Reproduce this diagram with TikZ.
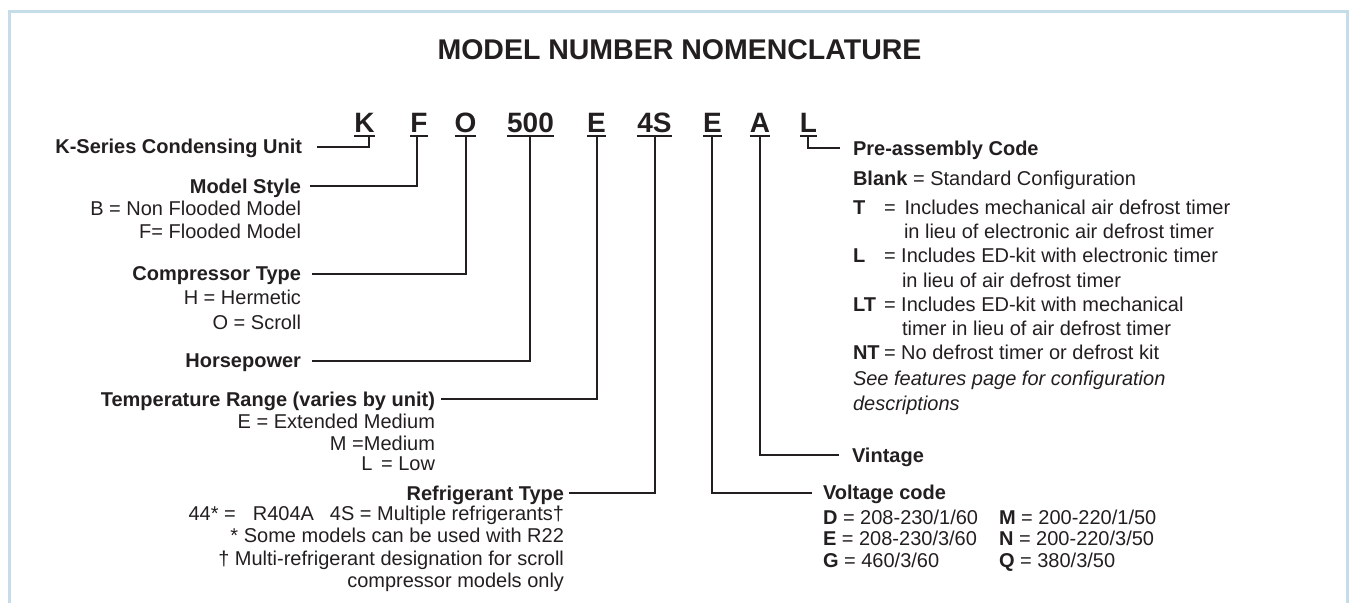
\documentclass[tikz,border=0pt]{standalone}
\usepackage{fontspec}
\setmainfont{Liberation Sans}
\usetikzlibrary{calc}
\definecolor{ink}{HTML}{231F20}
\definecolor{bordercol}{HTML}{C5DCE9}
\newcommand{\keycol}[1]{\makebox[31pt][l]{\textbf{#1}}}
\begin{document}
\begin{tikzpicture}[x=1pt,y=-1pt,
  txt/.style={inner sep=0pt, outer sep=0pt, text=ink, font=\fontsize{20}{24}\selectfont},
  lbl/.style={txt, anchor=base east},
  rlbl/.style={txt, anchor=base west},
  codebox/.style={inner sep=0pt, outer sep=0pt, text=ink, anchor=base, font=\fontsize{28}{34}\selectfont\bfseries},
  conn/.style={draw=ink, line width=2pt},
  uline/.style={draw=ink, line width=2.2pt},
]
\useasboundingbox (0,0) rectangle (1349,603);
\draw[bordercol, line width=3.5pt] (9.5,603) -- (9.5,11.5) -- (1347.5,11.5) -- (1347.5,603);

% title
\node[inner sep=0pt, text=ink, anchor=base, font=\fontsize{28.5}{34}\selectfont\bfseries] (title) at (679.5,59) {MODEL NUMBER NOMENCLATURE};

% code letters
\node[codebox] (cK) at (364.5,132) {K};
\node[codebox] (cF) at (419,132) {F};
\node[codebox] (cO) at (465.5,132) {O};
\node[codebox] (c500) at (530.5,132) {500};
\node[codebox] (cE) at (596.5,132) {E};
\node[codebox] (c4S) at (654.5,132) {4S};
\node[codebox] (cE2) at (712.5,132) {E};
\node[codebox] (cA) at (760,132) {A};
\node[codebox] (cL) at (808.5,132) {L};
\foreach \n in {cK,cF,cO,c500,cE,c4S,cE2,cA,cL}
  \draw[uline] ($(\n.base west)+(0,4)$) -- ($(\n.base east)+(0,4)$);

% left labels
\node[lbl] (ks) at (302,153) {\textbf{K-Series Condensing Unit}};
\node[lbl] (ms) at (301,193) {\textbf{Model Style}};
\node[lbl] (ms1) at (301,215) {B = Non Flooded Model};
\node[lbl] (ms2) at (301,238) {F= Flooded Model};
\node[lbl] (ct) at (301,280) {\textbf{Compressor Type}};
\node[lbl] (ct1) at (301,304) {H = Hermetic};
\node[lbl] (ct2) at (301,329) {O = Scroll};
\node[lbl] (hp) at (301,367) {\textbf{Horsepower}};
\node[lbl] (tr) at (435,406) {\textbf{Temperature Range (varies by unit)}};
\node[lbl] (tr1) at (435,428) {E = Extended Medium};
\node[lbl] (tr2) at (435,450) {M =Medium};
\node[lbl] (tr3) at (435,470) {L\hspace{3pt} = Low};
\node[lbl] (rt) at (564,500) {\textbf{Refrigerant Type}};
\node[lbl] (rt1) at (564,520) {44* =\hspace{17pt}R404A\hspace{16pt}4S = Multiple refrigerants†};
\node[lbl] (rt2) at (564,542) {* Some models can be used with R22};
\node[lbl] (rt3) at (564,565) {† Multi-refrigerant designation for scroll};
\node[lbl] (rt4) at (564,587) {compressor models only};

% right labels
\node[rlbl] (pre) at (853,155) {\textbf{Pre-assembly Code}};
\node[rlbl] (pre1) at (853,185) {\textbf{Blank} = Standard Configuration};
\node[rlbl] (pre2) at (853,214) {\keycol{T}=\ \,Includes mechanical air defrost timer};
\node[rlbl] (pre3) at (904,238) {in lieu of electronic air defrost timer};
\node[rlbl] (pre4) at (853,262) {\keycol{L}= Includes ED-kit with electronic timer};
\node[rlbl] (pre5) at (902,287) {in lieu of air defrost timer};
\node[rlbl] (pre6) at (853,311) {\keycol{LT}= Includes ED-kit with mechanical};
\node[rlbl] (pre7) at (902,335) {timer in lieu of air defrost timer};
\node[rlbl] (pre8) at (853,359) {\keycol{NT}= No defrost timer or defrost kit};
\node[rlbl] (pre9) at (853,385) {\itshape See features page for configuration};
\node[rlbl] (pre10) at (853,410) {\itshape descriptions};
\node[rlbl] (vin) at (852,462) {\textbf{Vintage}};
\node[rlbl] (vc) at (823,499) {\textbf{Voltage code}};
\node[rlbl] (vD) at (823,524) {\textbf{D} = 208-230/1/60};
\node[rlbl] (vE) at (823,545) {\textbf{E} = 208-230/3/60};
\node[rlbl] (vG) at (823,567) {\textbf{G} = 460/3/60};
\node[rlbl] (vM) at (999,524) {\textbf{M} = 200-220/1/50};
\node[rlbl] (vN) at (999,545) {\textbf{N} = 200-220/3/50};
\node[rlbl] (vQ) at (999,567) {\textbf{Q} = 380/3/50};

% connectors
\draw[conn] ($(cK.base)+(4.5,4)$) |- ($(ks.base east)+(15,-6)$);
\draw[conn] ($(cF.base)+(-2,4)$) |- ($(ms.base east)+(9,-7)$);
\draw[conn] ($(cO.base)+(0.5,4)$) |- ($(ct.base east)+(11,-6)$);
\draw[conn] ($(c500.base)+(-0.5,4)$) |- ($(hp.base east)+(11,-6)$);
\draw[conn] ($(cE.base)+(0.5,4)$) |- ($(tr.base east)+(6,-7)$);
\draw[conn] ($(c4S.base)+(0.5,4)$) |- ($(rt.base east)+(5,-7)$);
\draw[conn] ($(cE2.base)+(-0.5,4)$) |- ($(vc.base west)+(-11,-6)$);
\draw[conn] ($(cA.base)+(0,4)$) |- ($(vin.base west)+(-13,-7)$);
\draw[conn] ($(cL.base)+(-0.5,4)$) |- ($(pre.base west)+(-13,-7)$);
\end{tikzpicture}
\end{document}
